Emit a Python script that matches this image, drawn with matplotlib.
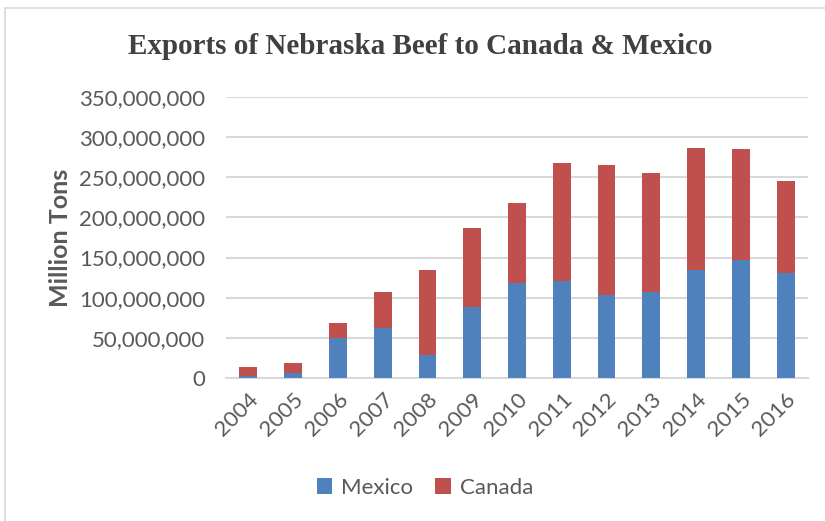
import matplotlib.pyplot as plt
from matplotlib.patches import Rectangle
from matplotlib.ticker import FuncFormatter

years = ["2004", "2005", "2006", "2007", "2008", "2009", "2010",
         "2011", "2012", "2013", "2014", "2015", "2016"]
mexico = [2.5e6, 6.2e6, 50e6, 62e6, 28.5e6, 88e6, 118.6e6,
          121e6, 104e6, 106.6e6, 133.9e6, 147.5e6, 131.4e6]
canada = [10.7e6, 12.4e6, 18.6e6, 44.6e6, 105.8e6, 98.4e6, 99.2e6,
          146.8e6, 161.3e6, 148.8e6, 152.1e6, 138e6, 114.1e6]

plt.rcParams['font.family'] = ['Lato', 'DejaVu Sans']
grey = "#595959"

fig = plt.figure(figsize=(8.25, 5.21), dpi=100)
fig.patches.append(Rectangle((5/825, -0.01), 1.0, 1 - 8/521 + 0.01,
                             transform=fig.transFigure, fill=False,
                             edgecolor="#d9d9d9", linewidth=1.2))

ax = fig.add_axes([226/825, 1 - 378/521, (808 - 226)/825, (378 - 97)/521])
x = range(len(years))
ax.bar(x, mexico, width=0.4, color="#4F81BD", label="Mexico", zorder=3)
ax.bar(x, canada, width=0.4, bottom=mexico, color="#C0504D", label="Canada", zorder=3)

ax.set_ylim(0, 350e6)
ax.set_xlim(-0.5, len(years) - 0.5)
ax.set_yticks([i * 50e6 for i in range(8)])
ax.yaxis.set_major_formatter(FuncFormatter(lambda v, p: f"{int(v):,}"))
ax.set_xticks(list(x))
ax.set_xticklabels(years, rotation=45, ha="right", rotation_mode="anchor")
ax.tick_params(axis="both", length=0, labelsize=16, labelcolor=grey)
ax.tick_params(axis="x", pad=8)
ax.tick_params(axis="y", pad=15)
ax.grid(axis="y", color="#d9d9d9", linewidth=1.5, zorder=0)
for s in ["top", "right", "left"]:
    ax.spines[s].set_visible(False)
ax.spines["bottom"].set_color("#d9d9d9")
ax.spines["bottom"].set_linewidth(1.5)

ax.set_ylabel("Million Tons", fontsize=18, fontweight="bold", color=grey, labelpad=5)

fig.text(420/825, 1 - 46/521, "Exports of Nebraska Beef to Canada & Mexico",
         ha="center", va="center", fontsize=21, fontweight="bold",
         family="Liberation Serif", color="#404040")

fig.legend(loc="center", bbox_to_anchor=(425/825, 1 - 488/521), ncol=2,
           frameon=False, fontsize=16, labelcolor=grey, handlelength=0.7,
           handleheight=0.7, columnspacing=1.0, handletextpad=0.4)

fig.savefig("out.png", dpi=100)
